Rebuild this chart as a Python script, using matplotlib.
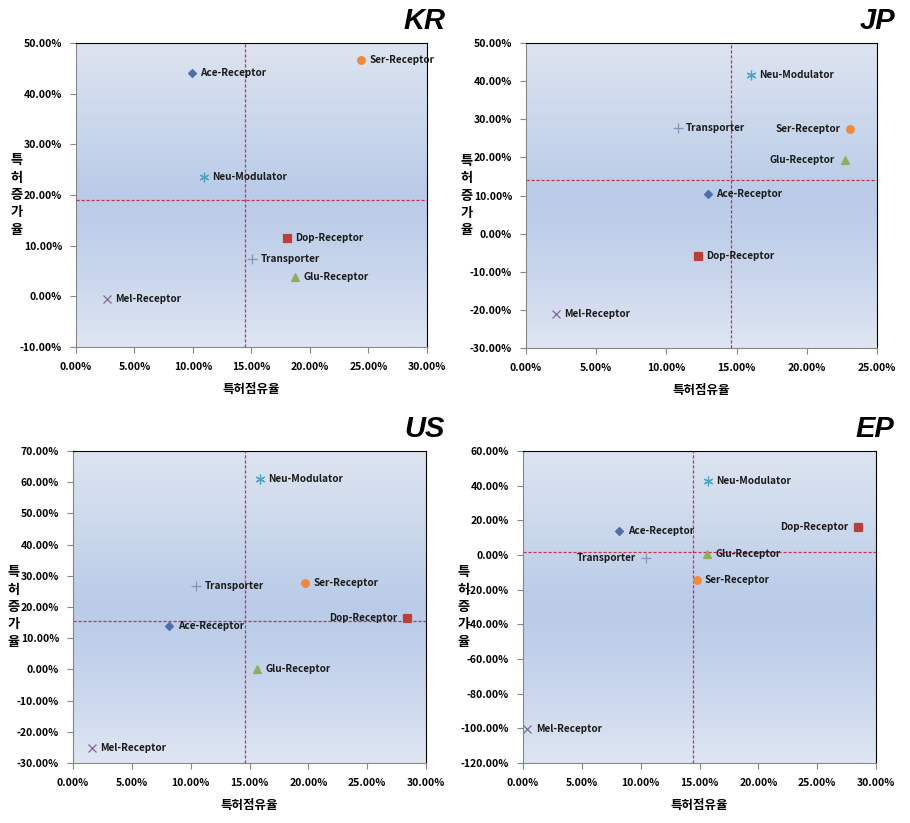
import matplotlib.pyplot as plt
import numpy as np
from matplotlib.colors import LinearSegmentedColormap
from matplotlib.ticker import FuncFormatter, MultipleLocator

plt.rcParams['font.family'] = ['Noto Sans CJK KR', 'DejaVu Sans']

# 데이터 (특허점유율 %, 특허증가율 %)
series = ["Ace-Receptor", "Dop-Receptor", "Glu-Receptor", "Mel-Receptor",
          "Neu-Modulator", "Ser-Receptor", "Transporter"]

kr_x = [9.88, 18.05, 18.76, 2.62, 10.93, 24.4, 15.06]
kr_y = [44.1, 11.6, 3.85, -0.56, 23.6, 46.6, 7.4]
jp_x = [12.97, 12.24, 22.7, 2.13, 16.0, 23.1, 10.8]
jp_y = [10.5, -5.9, 19.2, -21.2, 41.7, 27.4, 27.6]
us_x = [8.2, 28.36, 15.65, 1.64, 15.9, 19.7, 10.47]
us_y = [13.8, 16.5, 0.2, -25.3, 61.1, 27.7, 26.7]
ep_x = [8.19, 28.44, 15.67, 0.37, 15.7, 14.76, 10.42]
ep_y = [13.8, 16.2, 0.4, -100.6, 42.5, -14.6, -1.5]

# 평균선 (x, y)
kr_avg = [14.43, 18.95]
jp_avg = [14.63, 14.1]
us_avg = [14.58, 15.6]
ep_avg = [14.45, 1.9]

# 축 범위 / 눈금 간격
kr_lim = [0, 30, 5, -10, 50, 10]
jp_lim = [0, 25, 5, -30, 50, 10]
us_lim = [0, 30, 5, -30, 70, 10]
ep_lim = [0, 30, 5, -120, 60, 20]

# 스타일
colors = ["#4F6FA8", "#B8403C", "#8FAE5A", "#7D6A98", "#4BA3C3", "#EE8A3C", "#8095B8"]
markers = ["D", "s", "^", "x", (6, 2, 0), "o", "+"]
msizes = [4, 5.5, 5.5, 6, 7, 5.5, 7]

panels = [
    ("KR", kr_x, kr_y, kr_avg, kr_lim, "rrrrrrr", [0.0835, 0.5784, 0.3857, 0.3693]),
    ("JP", jp_x, jp_y, jp_avg, jp_lim, "rrlrrlr", [0.578, 0.5772, 0.3857, 0.3705]),
    ("US", us_x, us_y, us_avg, us_lim, "rlrrrrr", [0.0802, 0.0729, 0.388, 0.379]),
    ("EP", ep_x, ep_y, ep_avg, ep_lim, "rlrrrrl", [0.5747, 0.0729, 0.388, 0.379]),
]

bg = LinearSegmentedColormap.from_list(
    "bg", ["#dde4f0", "#cbd8ec", "#b9cbe8", "#c8d5ec", "#dfe6f2"])
grad = np.linspace(0, 1, 256).reshape(-1, 1)

fig = plt.figure(figsize=(9.1, 8.23), dpi=100)

for name, xs, ys, avg, lim, sides, pos in panels:
    ax = fig.add_axes(pos)
    ax.imshow(grad, extent=[0, 1, 0, 1], transform=ax.transAxes, cmap=bg,
              aspect="auto", zorder=0)
    ax.set_xlim(lim[0], lim[1])
    ax.set_ylim(lim[3], lim[4])
    ax.xaxis.set_major_locator(MultipleLocator(lim[2]))
    ax.yaxis.set_major_locator(MultipleLocator(lim[5]))
    fmt = FuncFormatter(lambda v, p: f"{v:.2f}%")
    ax.xaxis.set_major_formatter(fmt)
    ax.yaxis.set_major_formatter(fmt)
    ax.tick_params(direction="out", length=4, width=0.8, color="#868686",
                   labelsize=7.5, pad=6)
    for lab in ax.get_xticklabels() + ax.get_yticklabels():
        lab.set_fontweight("bold")
    ax.xaxis.set_tick_params(pad=7)

    for s in ["left", "bottom"]:
        ax.spines[s].set_color("#868686")
    for s in ["top", "right"]:
        ax.spines[s].set_color("black")

    # 평균선
    ax.axvline(avg[0], color="#C8304A", linestyle=(0, (2.5, 1.5)), linewidth=0.9, zorder=2)
    ax.axhline(avg[1], color="#C8304A", linestyle=(0, (2.5, 1.5)), linewidth=0.9, zorder=2)

    for i in range(len(series)):
        ax.plot(xs[i], ys[i], linestyle="none", marker=markers[i],
                markersize=msizes[i], color=colors[i], markeredgewidth=0.9, zorder=3)
        if sides[i] == "r":
            ax.annotate(series[i], (xs[i], ys[i]), xytext=(6, 0), textcoords="offset points",
                        ha="left", va="center", fontsize=7.2, fontweight="bold",
                        color="#1a1a1a", zorder=4)
        else:
            ax.annotate(series[i], (xs[i], ys[i]), xytext=(-7, 0), textcoords="offset points",
                        ha="right", va="center", fontsize=7.2, fontweight="bold",
                        color="#1a1a1a", zorder=4)

    ax.set_xlabel("특허점유율", fontsize=9, fontweight="bold", labelpad=8)
    ax.text(-0.168, 0.5, "특\n허\n증\n가\n율", transform=ax.transAxes, ha="center",
            va="center", fontsize=9.5, fontweight="bold", linespacing=1.3)

    box = ax.get_position()
    fig.text(box.x1 + 0.02, box.y1 + 0.027, name, ha="right", va="center",
             fontsize=21, fontweight="bold", fontstyle="italic",
             family=["Liberation Sans", "DejaVu Sans"])

fig.savefig("out.png", dpi=100)
